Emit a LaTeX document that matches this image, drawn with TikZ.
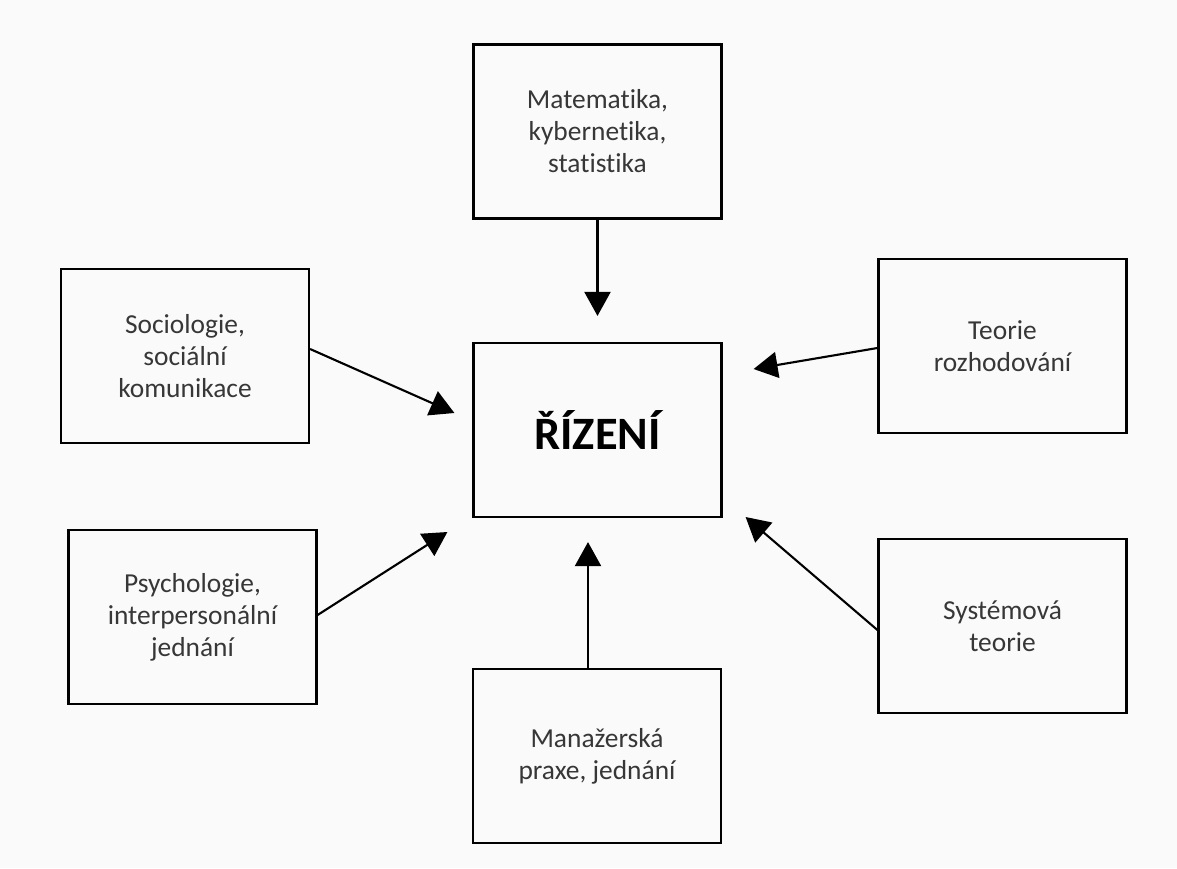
\documentclass[tikz,border=0pt]{standalone}
\usepackage{fontspec}
\setmainfont{Carlito}[Ligatures=NoCommon]
\usetikzlibrary{positioning,arrows.meta}
\definecolor{bgcol}{RGB}{250,250,250}
\definecolor{txtcol}{RGB}{55,55,55}

\begin{document}
\begin{tikzpicture}[
x=0.025cm, y=-0.025cm,
field/.style={rectangle, draw, line width=1.5pt, minimum width=6.2cm, minimum height=4.35cm, inner sep=0pt, align=center, text=txtcol, font=\fontsize{19.5}{22.8}\selectfont},
main/.style={field, text=black, font=\fontsize{33}{38}\selectfont\bfseries},
link/.style={line width=1.5pt, -{Triangle[length=0.6cm,width=0.65cm]}},
]

\useasboundingbox[fill=bgcol] (0,0) rectangle (1177,868);

\node[field] (mat) at (597.5,131.5) {Matematika,\\kybernetika,\\statistika};
\node[field] (soc) at (185,356) {Sociologie,\\sociální\\komunikace};
\node[field] (teo) at (1002.5,346) {Teorie\\rozhodování};
\node[main] (riz) at (597.5,430) {ŘÍZENÍ};
\node[field] (psy) at (192.5,617) {Psychologie,\\interpersonální\\jednání};
\node[field] (sys) at (1002.5,626) {Systémová\\teorie};
\node[field] (man) at (597,756) {Manažerská\\praxe, jednání};

\path[link]
(mat.south) edge ([shift={(0,-26)}]riz.north)
([shift={(0,-7)}]soc.east) edge ([shift={(-18,-17)}]riz.west)
([shift={(0,2)}]teo.west) edge ([shift={(31,-61)}]riz.east)
([shift={(0,-2)}]psy.east) edge ([shift={(-25,102)}]riz.west)
([shift={(-9,0)}]man.north) edge ([shift={(-9.5,24)}]riz.south)
([shift={(0,4)}]sys.west) edge ([shift={(23,87)}]riz.east)
;
\end{tikzpicture}
\end{document}
